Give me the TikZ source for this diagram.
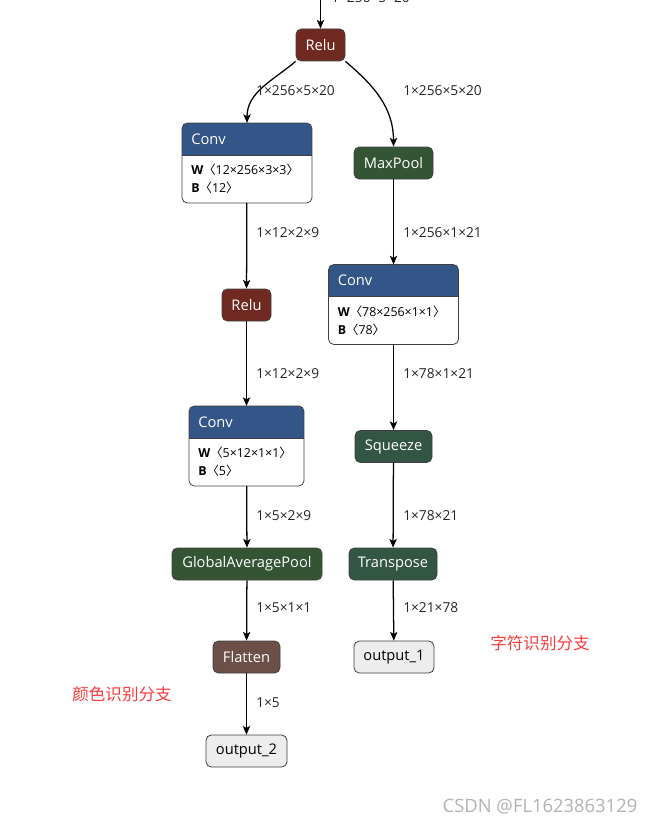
\documentclass[tikz,border=0pt]{standalone}
\usepackage{fontspec}
\setmainfont{Open Sans}
\newfontfamily\cjkfont{Noto Sans CJK SC}
\usetikzlibrary{arrows.meta,positioning,calc}

\definecolor{convblue}{RGB}{51,85,136}
\definecolor{relured}{RGB}{112,41,33}
\definecolor{poolgreen}{RGB}{51,85,51}
\definecolor{shapegreen}{RGB}{51,85,68}
\definecolor{flatbrown}{RGB}{108,79,71}
\definecolor{notered}{RGB}{250,60,60}

% header, separator and W/B lines of a Conv box
\newcommand{\convdetail}[4]{%
  \begin{scope}
    \clip[rounded corners=4pt] (#1.south west) rectangle (#1.north east);
    \fill[convblue] (#1.north west) rectangle ($(#1.north east)+(0,32)$);
  \end{scope}
  \draw[black!75, line width=0.6pt] ($(#1.north west)+(0,32)$) -- ($(#1.north east)+(0,32)$);
  \draw[black!75, line width=0.6pt, rounded corners=4pt] (#1.south west) rectangle (#1.north east);
  \node[anchor=west, text=white, inner sep=0pt] at ($(#1.north west)+(9,16)$) {#2};
  \node[attr] at ($(#1.north west)+(9,47)$) {\textbf{W}{\cjkfont 〈}#3{\cjkfont 〉}};
  \node[attr] at ($(#1.north west)+(9,65)$) {\textbf{B}{\cjkfont 〈}#4{\cjkfont 〉}};
}

\begin{document}
\begin{tikzpicture}[
    x=0.75pt, y=-0.75pt,
    font=\fontsize{11}{13}\selectfont,
    op/.style={draw=black!75, line width=0.6pt, rounded corners=4pt, minimum height=24pt,
               inner sep=0pt, text=white},
    relu/.style={op, fill=relured},
    pool/.style={op, fill=poolgreen},
    reshape/.style={op, fill=shapegreen},
    flat/.style={op, fill=flatbrown},
    outnode/.style={op, fill=black!7, text=black},
    convbox/.style={inner sep=0pt, outer sep=0pt},
    attr/.style={anchor=west, inner sep=0pt, font=\fontsize{9.3}{11}\selectfont},
    lbl/.style={anchor=west, inner sep=0pt, text=black!85, font=\fontsize{10.3}{12}\selectfont},
    flow/.style={-{Stealth[length=6.5pt, width=5.5pt, inset=1.5pt]}, line width=0.95pt},
    note/.style={text=notered, font=\cjkfont\fontsize{12.4}{14}\selectfont},
]
\useasboundingbox (0,0) rectangle (651,824);
\clip (0,0) rectangle (651,824);

% =====================  TRUNK  =====================
\coordinate (in) at (320.5,-20);
\node[relu, minimum width=36.75pt] (relu1) at (320.5,45) {Relu};
\draw[flow] (in) -- (relu1);
\node[lbl, anchor=base west] at (331,3) {1×256×5×20};

% =====================  LEFT BRANCH  =====================
\node[convbox, minimum width=97.5pt, minimum height=60pt] (conv1) at (247,163) {};
\convdetail{conv1}{Conv}{12×256×3×3}{12}
\node[relu, minimum width=36.75pt]    (relu2)   at (246.5,305) {Relu};
\node[convbox, minimum width=86.25pt, minimum height=60pt] (conv2) at (246.5,446) {};
\convdetail{conv2}{Conv}{5×12×1×1}{5}
\node[pool, minimum width=112.5pt]    (gap)     at (247,564)   {GlobalAveragePool};
\node[flat, minimum width=50.25pt]    (flatten) at (246.5,657) {Flatten};
\node[outnode, minimum width=60.75pt] (out2)    at (246.5,751) {output\_2};

\draw[flow] (relu1.south west) to[out=-140, in=90] (conv1.north);
\draw[flow] (conv1) -- (relu2);
\draw[flow] (relu2) -- (conv2);
\draw[flow] (conv2) -- (gap);
\draw[flow] (gap) -- (flatten);
\draw[flow] (flatten) -- (out2);

\node[lbl] at (256,91)  {1×256×5×20};
\node[lbl] at (256,233) {1×12×2×9};
\node[lbl] at (256,374) {1×12×2×9};
\node[lbl] at (256,516) {1×5×2×9};
\node[lbl] at (256,608) {1×5×1×1};
\node[lbl] at (256,703) {1×5};

% =====================  RIGHT BRANCH  =====================
\node[pool, minimum width=59.25pt]    (maxpool)   at (393.5,163) {MaxPool};
\node[convbox, minimum width=97.5pt, minimum height=60pt] (conv3) at (393.5,304.5) {};
\convdetail{conv3}{Conv}{78×256×1×1}{78}
\node[reshape, minimum width=57.75pt] (squeeze)   at (393.5,446.5) {Squeeze};
\node[reshape, minimum width=66pt]    (transpose) at (393,564)   {Transpose};
\node[outnode, minimum width=60pt]    (out1)      at (394,657)   {output\_1};

\draw[flow] (relu1.south east) to[out=-40, in=90] (maxpool.north);
\draw[flow] (maxpool) -- (conv3);
\draw[flow] (conv3) -- (squeeze);
\draw[flow] (squeeze) -- (transpose);
\draw[flow] (transpose) -- (out1);

\node[lbl] at (403,91)  {1×256×5×20};
\node[lbl] at (403,233) {1×256×1×21};
\node[lbl] at (403,374) {1×78×1×21};
\node[lbl] at (403,516) {1×78×21};
\node[lbl] at (403,608) {1×21×78};

% notes
\node[note] (notechar)  at (540,643) {字符识别分支};
\node[note] (notecolor) at (122,694) {颜色识别分支};
\node[text=black!30, font=\fontsize{13.8}{16}\selectfont] (mark) at (540,807) {CSDN @FL1623863129};

\end{tikzpicture}
\end{document}
